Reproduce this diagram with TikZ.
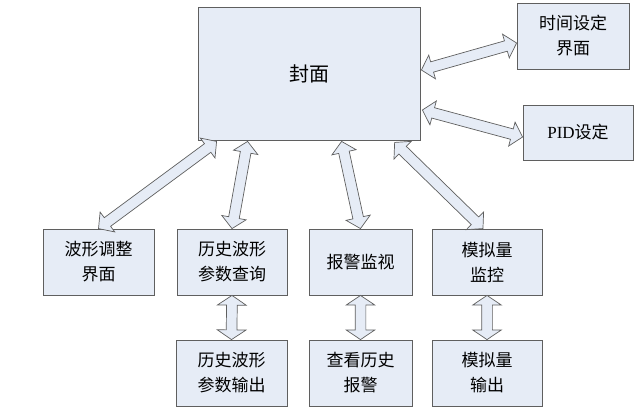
\documentclass[tikz,border=0pt]{standalone}
\usepackage{fontspec}
\setmainfont{Liberation Serif}
\newfontfamily\cjk{Noto Sans CJK SC}
\usetikzlibrary{shapes.arrows,calc}
\definecolor{boxfill}{RGB}{230,236,246}
\definecolor{boxline}{RGB}{95,95,95}
% hollow double arrow between two points
\newcommand\linkarrow[3][dbl]{%
  \path let \p1=(#2), \p2=(#3), \n1={veclen(\x2-\x1,\y2-\y1)} in
    (#2) -- (#3) node[#1,midway,sloped,minimum height=\n1] {};}
\begin{document}
\begin{tikzpicture}[x=1pt,y=-1pt, every node/.style={font=\cjk\fontsize{17}{25}\selectfont},
  box/.style={draw=boxline,fill=boxfill,line width=0.8pt,align=center,inner sep=0pt},
  dbl/.style={double arrow,draw=boxline,fill=boxfill,line width=0.7pt,inner xsep=0pt,inner ysep=5pt,
    double arrow head extend=7pt,double arrow tip angle=96},
  dblv/.style={dbl,double arrow head extend=9pt,double arrow tip angle=112}]
\useasboundingbox (0,0) rectangle (640,413);
\node[box,minimum width=222pt,minimum height=133pt,font=\cjk\fontsize{20}{24}\selectfont] (cover) at (309,73.5) {封面};
\node[box,minimum width=112pt,minimum height=66pt] (timeset) at (573,36) {时间设定\\界面};
\node[box,minimum width=110pt,minimum height=55pt] (pidset) at (578,132.5) {{\rmfamily PID}设定};
% second row
\node[box,minimum width=111pt,minimum height=66pt] (wave) at (98.5,262) {波形调整\\界面};
\node[box,minimum width=110pt,minimum height=66pt] (histq) at (232,262) {历史波形\\参数查询};
\node[box,minimum width=103pt,minimum height=66pt] (alarm) at (360.5,262) {报警监视};
\node[box,minimum width=110pt,minimum height=66pt] (analog) at (487,262) {模拟量\\监控};
% third row
\node[box,minimum width=111pt,minimum height=66pt] (histout) at (231.5,373) {历史波形\\参数输出};
\node[box,minimum width=103pt,minimum height=66pt] (histalarm) at (360.5,373) {查看历史\\报警};
\node[box,minimum width=110pt,minimum height=66pt] (anaout) at (487,373) {模拟量\\输出};
\linkarrow{wave.north}{$(cover.south west)+(19,1)$}
\linkarrow{histq.north}{$(cover.south west)+(50,1)$}
\linkarrow{alarm.north}{$(cover.south west)+(144,1)$}
\linkarrow{$(analog.north)+(-4,0)$}{$(cover.south west)+(197,2)$}
\linkarrow{$(cover.east)+(1,-3.5)$}{$(timeset.west)+(0,7)$}
\linkarrow{$(cover.east)+(2,36.5)$}{$(pidset.west)+(0,4.5)$}
\linkarrow[dblv]{histq.south}{histout.north}
\linkarrow[dblv]{alarm.south}{histalarm.north}
\linkarrow[dblv]{analog.south}{anaout.north}
\end{tikzpicture}
\end{document}
